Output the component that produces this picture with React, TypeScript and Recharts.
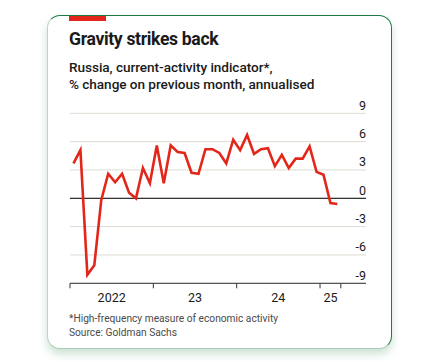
import { LineChart, Line, XAxis, YAxis, CartesianGrid, ReferenceLine } from "recharts";

// monthly readings, Jan 2022 – Mar 2025
const months = [
  "2022-01", "2022-02", "2022-03", "2022-04", "2022-05", "2022-06",
  "2022-07", "2022-08", "2022-09", "2022-10", "2022-11", "2022-12",
  "2023-01", "2023-02", "2023-03", "2023-04", "2023-05", "2023-06",
  "2023-07", "2023-08", "2023-09", "2023-10", "2023-11", "2023-12",
  "2024-01", "2024-02", "2024-03", "2024-04", "2024-05", "2024-06",
  "2024-07", "2024-08", "2024-09", "2024-10", "2024-11", "2024-12",
  "2025-01", "2025-02", "2025-03",
];
const activity = [
  3.7, 5.1, -8.1, -7.1, -0.2, 2.6, 1.7, 2.6, 0.6, 0.0, 3.2, 1.6,
  5.6, 1.6, 5.6, 4.9, 4.8, 2.7, 2.6, 5.2, 5.2, 4.8, 3.7, 6.2,
  5.1, 6.7, 4.7, 5.2, 5.3, 3.4, 4.6, 3.2, 4.2, 4.2, 5.5, 2.8,
  2.5, -0.5, -0.6,
];
const yTicks = [-9, -6, -3, 0, 3, 6, 9];
// year boundaries (months since Jan 2022) and the end of the axis
const yearBounds = [0, 12, 24, 36, 39];
const yearLabels = ["2022", "23", "24", "25"];

const data = months.map((m, i) => ({ month: m, t: i + 0.5, v: activity[i] }));

const labelTicks = yearLabels.map((_, i) => (yearBounds[i] + yearBounds[i + 1]) / 2);

const RED = "#e3261a";
const TEXT = "#1a1a1a";
const PLOT_RIGHT = 366;
const PLOT_BOTTOM = 283.3;

function XTick(props: any) {
  const { x, payload } = props;
  const idx = labelTicks.indexOf(payload.value);
  if (idx >= 0) {
    return (
      <text x={x} y={PLOT_BOTTOM + 19} textAnchor="middle" fontSize={12.5} fill={TEXT}>
        {yearLabels[idx]}
      </text>
    );
  }
  return (
    <line x1={x} x2={x} y1={PLOT_BOTTOM} y2={PLOT_BOTTOM + 5} stroke="#333" strokeWidth={1} />
  );
}

function YTick(props: any) {
  const { y, payload } = props;
  return (
    <text x={PLOT_RIGHT} y={y - 3.5} textAnchor="end" fontSize={12.5} fill={TEXT}>
      {payload.value}
    </text>
  );
}

export default function App() {
  return (
    <div
      style={{
        position: "absolute",
        left: 0,
        top: 0,
        width: 442,
        height: 363,
        background: "#fff",
        fontFamily: "Roboto, 'Noto Sans', sans-serif",
        overflow: "hidden",
      }}
    >
      <div
        style={{
          position: "absolute",
          left: 47,
          top: 15,
          width: 345,
          height: 334,
          boxSizing: "border-box",
          borderRadius: 13,
          borderTop: "1.5px solid #1f7a45",
          borderRight: "1.5px solid #1f7a45",
          borderLeft: "1px solid #b9d6c2",
          borderBottom: "1px solid #a9cdb6",
          boxShadow: "0 5px 9px rgba(110,170,130,0.35)",
          background: "#fff",
        }}
      />
      <div
        style={{ position: "absolute", left: 69, top: 16, width: 37, height: 5, background: RED }}
      />
      <div
        style={{
          position: "absolute",
          left: 69,
          top: 29,
          fontSize: 17.6,
          fontWeight: 700,
          color: TEXT,
          letterSpacing: -0.35,
          whiteSpace: "nowrap",
        }}
      >
        Gravity strikes back
      </div>
      <div
        style={{
          position: "absolute",
          left: 69,
          top: 59,
          fontSize: 13.6,
          fontWeight: 500,
          lineHeight: "17px",
          color: TEXT,
          letterSpacing: -0.05,
          whiteSpace: "nowrap",
        }}
      >
        Russia, current-activity indicator*,
        <br />
        % change on previous month, annualised
      </div>
      <div style={{ position: "absolute", left: 0, top: 0 }}>
        <LineChart
          width={442}
          height={363}
          data={data}
          margin={{ top: 113.3, right: 442 - PLOT_RIGHT - 1, bottom: 363 - PLOT_BOTTOM - 30, left: 70 }}
        >
          <CartesianGrid vertical={false} stroke="#dcdcd4" strokeWidth={1} />
          <XAxis
            type="number"
            dataKey="t"
            domain={[0, 42.62]}
            ticks={[...yearBounds, ...labelTicks]}
            interval={0}
            tick={<XTick />}
            tickLine={false}
            axisLine={{ stroke: "#333", strokeWidth: 1 }}
            height={30}
          />
          <YAxis
            orientation="right"
            type="number"
            domain={[-9, 9]}
            ticks={yTicks}
            width={1}
            tick={<YTick />}
            tickLine={false}
            axisLine={false}
            interval={0}
          />
          <ReferenceLine y={0} stroke="#333" strokeWidth={1.3} />
          <Line
            type="linear"
            dataKey="v"
            stroke={RED}
            strokeWidth={2.6}
            dot={false}
            isAnimationActive={false}
          />
        </LineChart>
      </div>
      <div
        style={{
          position: "absolute",
          left: 69,
          top: 312,
          fontSize: 10.2,
          lineHeight: "14px",
          color: "#4a4a4a",
          whiteSpace: "nowrap",
        }}
      >
        *High-frequency measure of economic activity
        <br />
        Source: Goldman Sachs
      </div>
    </div>
  );
}
